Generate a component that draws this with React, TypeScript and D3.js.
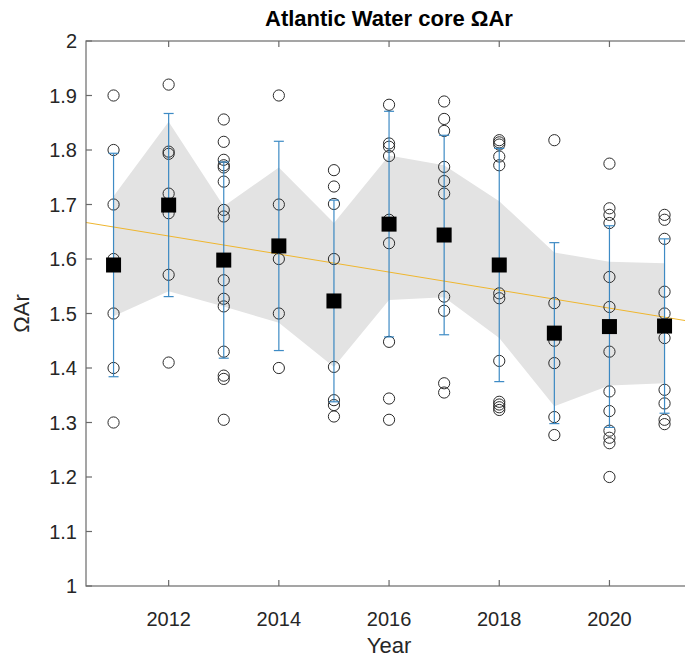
import React from "react";
import * as d3 from "d3";

const years = [2011, 2012, 2013, 2014, 2015, 2016, 2017, 2018, 2019, 2020, 2021];
const means = [1.589, 1.699, 1.598, 1.624, 1.523, 1.664, 1.644, 1.589, 1.464, 1.476, 1.477];
const errs = [0.205, 0.168, 0.18, 0.192, 0.185, 0.207, 0.183, 0.214, 0.166, 0.185, 0.16];
const bandUpper = [1.715, 1.852, 1.697, 1.768, 1.666, 1.79, 1.772, 1.706, 1.612, 1.595, 1.592];
const bandLower = [1.495, 1.541, 1.513, 1.483, 1.402, 1.525, 1.53, 1.455, 1.33, 1.368, 1.372];

const obs2011 = [1.9, 1.8, 1.7, 1.6, 1.5, 1.4, 1.3];
const obs2012 = [1.92, 1.797, 1.793, 1.72, 1.684, 1.571, 1.41];
const obs2013 = [1.856, 1.815, 1.782, 1.772, 1.768, 1.742, 1.69, 1.678, 1.561, 1.527, 1.513, 1.43, 1.386, 1.38, 1.305];
const obs2014 = [1.9, 1.7, 1.6, 1.5, 1.4];
const obs2015 = [1.763, 1.733, 1.701, 1.6, 1.402, 1.341, 1.332, 1.311];
const obs2016 = [1.883, 1.812, 1.806, 1.789, 1.672, 1.629, 1.448, 1.344, 1.305];
const obs2017 = [1.889, 1.857, 1.835, 1.769, 1.743, 1.72, 1.531, 1.505, 1.372, 1.355];
const obs2018 = [1.818, 1.814, 1.81, 1.788, 1.772, 1.537, 1.528, 1.413, 1.338, 1.333, 1.328, 1.323];
const obs2019 = [1.818, 1.519, 1.45, 1.409, 1.31, 1.277];
const obs2020 = [1.775, 1.693, 1.681, 1.666, 1.567, 1.512, 1.43, 1.357, 1.321, 1.285, 1.272, 1.262, 1.2];
const obs2021 = [1.681, 1.672, 1.637, 1.54, 1.5, 1.455, 1.36, 1.335, 1.305, 1.297];
const observations = [obs2011, obs2012, obs2013, obs2014, obs2015, obs2016, obs2017, obs2018, obs2019, obs2020, obs2021];

const trendYears = [2010.5, 2021.5];
const trendValues = [1.667, 1.485];

const xTicks = [2012, 2014, 2016, 2018, 2020];
const yTicks = [1, 1.1, 1.2, 1.3, 1.4, 1.5, 1.6, 1.7, 1.8, 1.9, 2];

const titleText = "Atlantic Water core \u03A9Ar";
const xLabel = "Year";
const yLabel = "\u03A9Ar";

export default function App() {
  const W = 700;
  const H = 657;
  const left = 86;
  const top = 41;
  const bottom = 586;
  const x = d3.scaleLinear().domain([2010.5, 2021.5]).range([left, left + 11 * 55.1]);
  const y = d3.scaleLinear().domain([1, 2]).range([bottom, top]);
  const right = x(2021.5);

  const area = d3
    .area<number>()
    .x((_, i) => x(years[i]))
    .y0((_, i) => y(bandLower[i]))
    .y1((_, i) => y(bandUpper[i]));
  const bandPath = area(years) || "";

  const trendPath =
    d3
      .line<number>()
      .x((_, i) => x(trendYears[i]))
      .y((d) => y(d))(trendValues) || "";

  const axisColor = "#6a6a6a";
  const textColor = "#262626";
  const font = "'Liberation Sans', Arial, sans-serif";
  const tickLen = 6;
  const cap = 5;
  const sq = 15;

  return (
    <svg
      width={W}
      height={H}
      style={{ position: "absolute", left: 0, top: 0, background: "#fff" }}
      fontFamily={font}
    >
      <rect x={0} y={0} width={W} height={H} fill="#fff" />
      <path d={bandPath} fill="#e3e3e3" stroke="none" />
      <path d={trendPath} fill="none" stroke="#efb62e" strokeWidth={1} />
      {observations.map((obs, i) =>
        obs.map((v, j) => (
          <circle
            key={`o${i}-${j}`}
            cx={x(years[i])}
            cy={y(v)}
            r={5.6}
            fill="none"
            stroke="#2a2a2a"
            strokeWidth={1}
          />
        ))
      )}
      {years.map((yr, i) => {
        const cx = x(yr);
        const hi = y(means[i] + errs[i]);
        const lo = y(means[i] - errs[i]);
        return (
          <g key={`e${yr}`} stroke="#2a7fbf" strokeWidth={1.2} opacity={0.9}>
            <line x1={cx} x2={cx} y1={hi} y2={lo} />
            <line x1={cx - cap} x2={cx + cap} y1={hi} y2={hi} />
            <line x1={cx - cap} x2={cx + cap} y1={lo} y2={lo} />
          </g>
        );
      })}
      {years.map((yr, i) => (
        <rect
          key={`m${yr}`}
          x={x(yr) - sq / 2}
          y={y(means[i]) - sq / 2}
          width={sq}
          height={sq}
          fill="#000"
        />
      ))}
      <rect
        x={left}
        y={top}
        width={right - left}
        height={bottom - top}
        fill="none"
        stroke={axisColor}
        strokeWidth={1.2}
      />
      {xTicks.map((t) => (
        <g key={`xt${t}`}>
          <line x1={x(t)} x2={x(t)} y1={bottom} y2={bottom - tickLen} stroke={axisColor} strokeWidth={1.2} />
          <line x1={x(t)} x2={x(t)} y1={top} y2={top + tickLen} stroke={axisColor} strokeWidth={1.2} />
          <text x={x(t)} y={bottom + 40} textAnchor="middle" fontSize={20} fill={textColor}>
            {t}
          </text>
        </g>
      ))}
      {yTicks.map((t) => (
        <g key={`yt${t}`}>
          <line x1={left} x2={left + tickLen} y1={y(t)} y2={y(t)} stroke={axisColor} strokeWidth={1.2} />
          <line x1={right} x2={right - tickLen} y1={y(t)} y2={y(t)} stroke={axisColor} strokeWidth={1.2} />
          <text x={left - 9} y={y(t) + 7} textAnchor="end" fontSize={20} fill={textColor}>
            {d3.format("")(t)}
          </text>
        </g>
      ))}
      <text x={389} y={26} textAnchor="middle" fontSize={22} fontWeight="bold" fill="#000">
        {titleText}
      </text>
      <text x={389} y={653} textAnchor="middle" fontSize={22} fill={textColor}>
        {xLabel}
      </text>
      <text
        transform={`translate(29, ${(top + bottom) / 2}) rotate(-90)`}
        textAnchor="middle"
        fontSize={22}
        fill={textColor}
      >
        {yLabel}
      </text>
    </svg>
  );
}
